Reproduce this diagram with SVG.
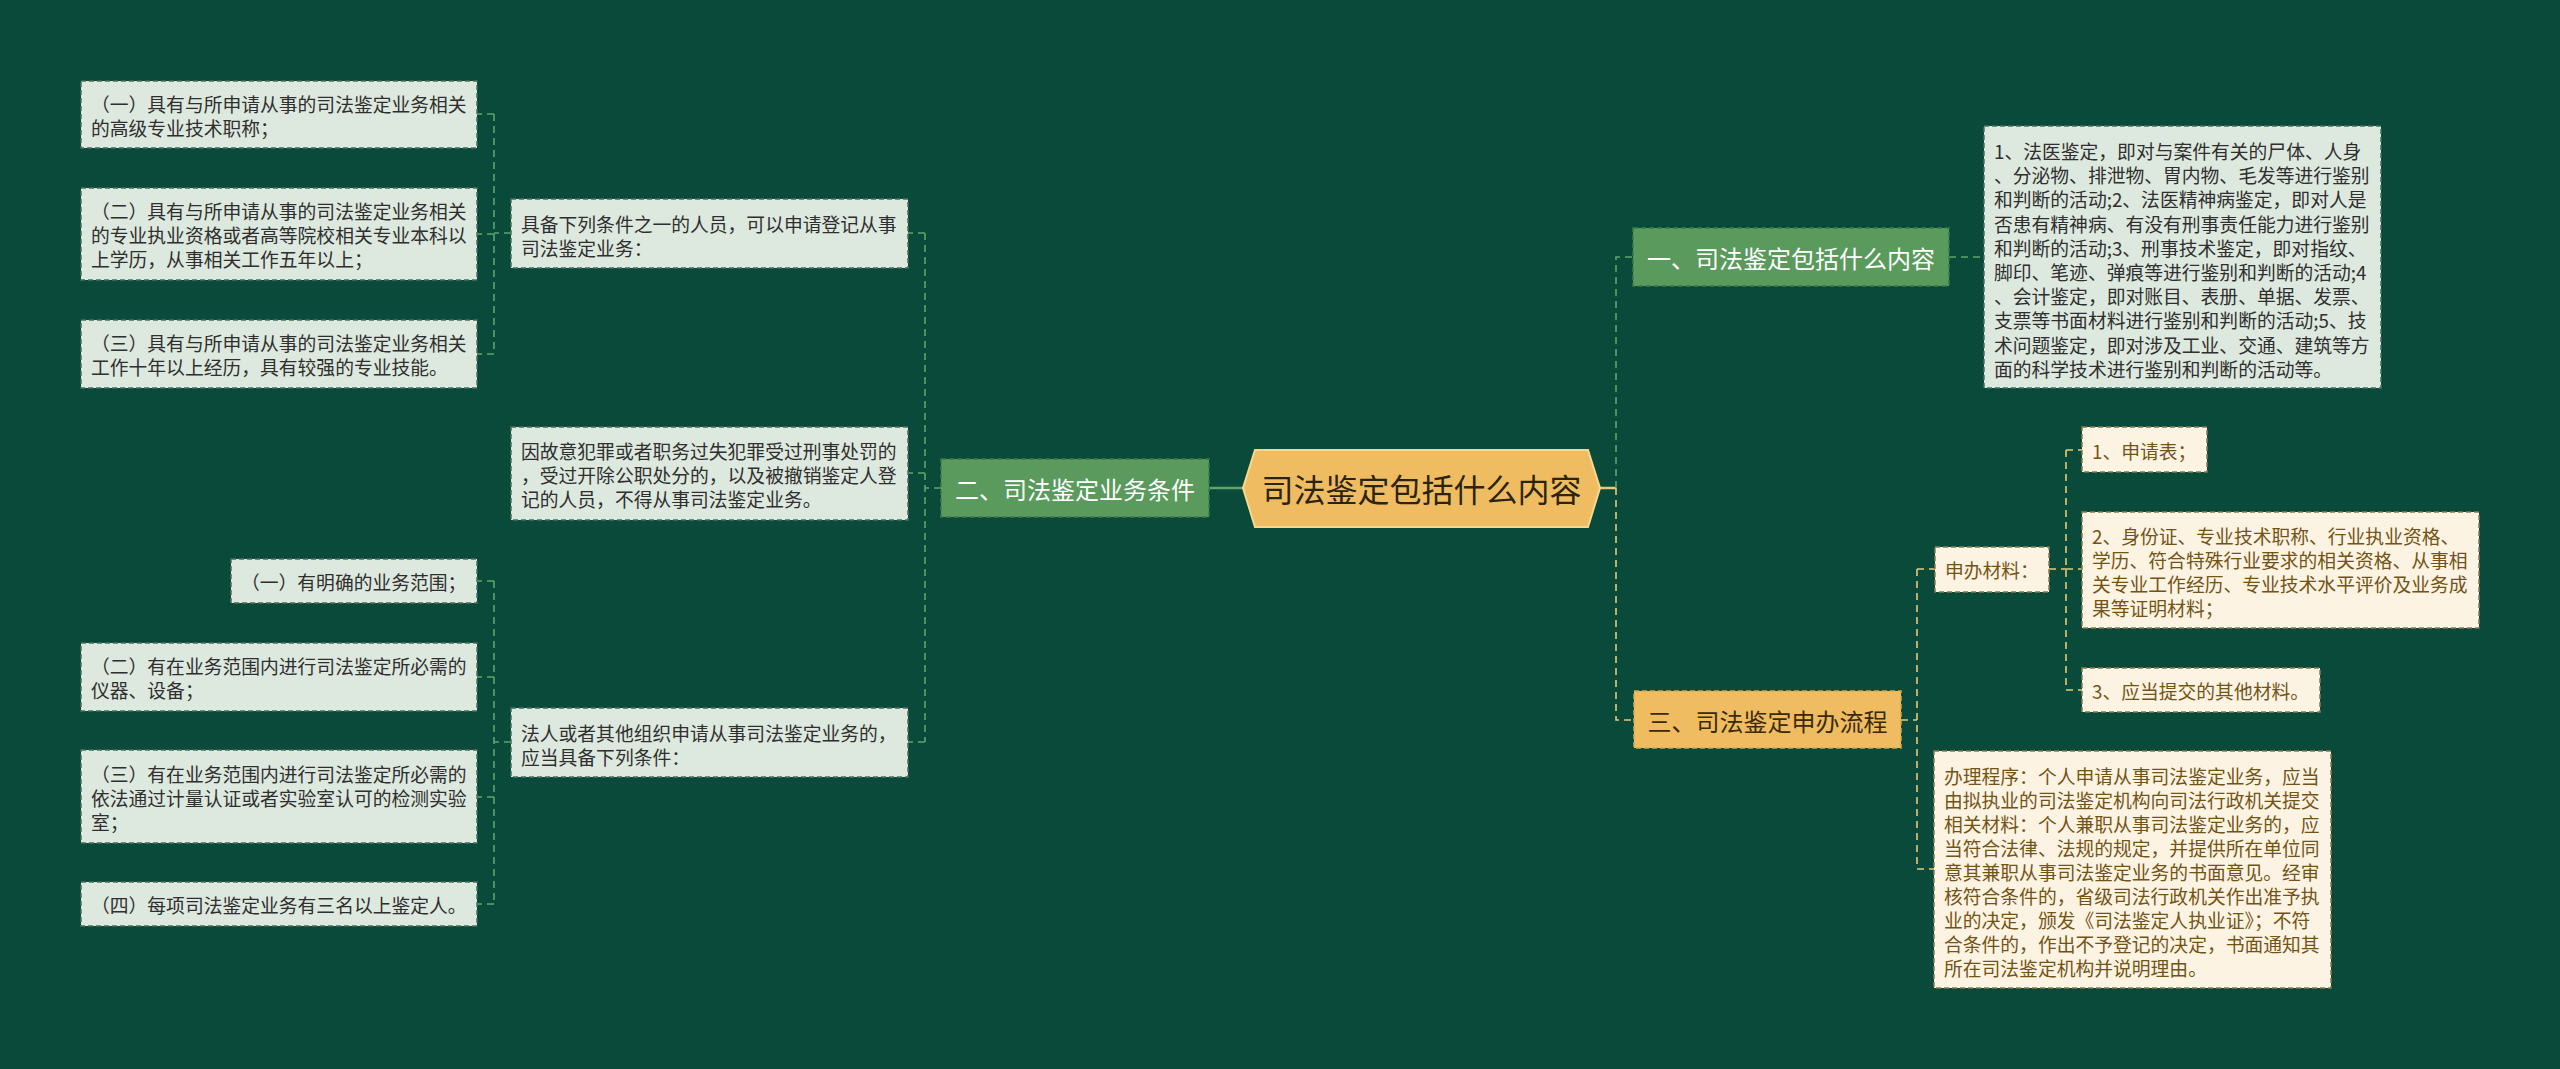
<svg xmlns="http://www.w3.org/2000/svg" width="2560" height="1069" viewBox="0 0 2560 1069">
<style>
text{font-family:"Noto Sans CJK SC","Noto Sans",sans-serif;dominant-baseline:central}
.lg rect{fill:#dde8de;stroke:#4e6e5c;stroke-width:1.5;stroke-dasharray:5 3}
.lg text{font-size:18.8px;fill:#2f2f2f}
.ly rect{fill:#fcf3e3;stroke:#8a7a50;stroke-width:1.5;stroke-dasharray:5 3}
.ly text{font-size:18.8px;fill:#735415}
.gn rect{fill:#5a9a5c;stroke:#3d7a48;stroke-width:1.5;stroke-dasharray:5 3}
.gn text{font-size:24px;fill:#ffffff}
.yn rect{fill:#f0bc62;stroke:#d8a64c;stroke-width:1.5;stroke-dasharray:5 3}
.yn text{font-size:24px;fill:#3a2a0a}
.cg{fill:none;stroke:#5fa46c;stroke-width:1.6;stroke-dasharray:7 5}
.cy{fill:none;stroke:#e9c978;stroke-width:1.6;stroke-dasharray:7 5}
</style>
<rect x="0" y="0" width="2560" height="1069" fill="#0a4a3a"/>
<g id="connectors">
<path class="cg" d="M1243,488 H1209" style="stroke-dasharray:none;stroke-width:2.5"/>
<path class="cg" d="M941,488 H925 M925,233 V742 M925,233 H908 M925,473 H908 M925,742 H908"/>
<path class="cg" d="M511,233 H494 M494,114 V354 M494,114 H477 M494,234 H477 M494,354 H477"/>
<path class="cg" d="M511,742 H494 M494,581 V904 M494,581 H477 M494,677 H477 M494,797 H477 M494,904 H477"/>
<path class="cy" d="M1600,488 H1616" style="stroke-dasharray:none;stroke-width:2.5"/>
<path class="cg" d="M1616,488 V257 H1633"/>
<path class="cg" d="M1949,257 H1984"/>
<path class="cy" d="M1616,488 V720 H1634"/>
<path class="cy" d="M1901,720 H1917 M1917,569 V869 M1917,569 H1935 M1917,869 H1934"/>
<path class="cy" d="M2049,569 H2066 M2066,450 V690 M2066,450 H2082 M2066,569 H2082 M2066,690 H2082"/>
</g>
<g id="root">
<polygon points="1243,488 1255,450 1588,450 1600,488 1588,527 1255,527" fill="#f0bc62" stroke="#f7d98e" stroke-width="2"/>
<text x="1421.5" y="488" text-anchor="middle" font-size="32" fill="#2a2410">司法鉴定包括什么内容</text>
</g>
<g id="n2" class="gn"><rect x="941" y="459" width="268" height="58"/><text x="1075" y="488" text-anchor="middle">二、司法鉴定业务条件</text></g>
<g id="n1" class="gn"><rect x="1633" y="228" width="316" height="58"/><text x="1791" y="257" text-anchor="middle">一、司法鉴定包括什么内容</text></g>
<g id="n3" class="yn"><rect x="1634" y="691" width="267" height="57"/><text x="1767.5" y="720" text-anchor="middle">三、司法鉴定申办流程</text></g>

<g id="p1" class="lg"><rect x="511" y="199" width="397" height="69"/><text x="521"><tspan x="521" y="223">具备下列条件之一的人员，可以申请登记从事</tspan><tspan x="521" y="247">司法鉴定业务：</tspan></text></g>
<g id="p2" class="lg"><rect x="511" y="427" width="397" height="93"/><text x="521"><tspan x="521" y="450">因故意犯罪或者职务过失犯罪受过刑事处罚的</tspan><tspan x="521" y="474">，受过开除公职处分的，以及被撤销鉴定人登</tspan><tspan x="521" y="498">记的人员，不得从事司法鉴定业务。</tspan></text></g>
<g id="p3" class="lg"><rect x="511" y="708" width="397" height="69"/><text x="521"><tspan x="521" y="732">法人或者其他组织申请从事司法鉴定业务的，</tspan><tspan x="521" y="756">应当具备下列条件：</tspan></text></g>

<g id="a1" class="lg"><rect x="81" y="81" width="396" height="67"/><text x="91"><tspan x="91" y="103">（一）具有与所申请从事的司法鉴定业务相关</tspan><tspan x="91" y="127">的高级专业技术职称；</tspan></text></g>
<g id="a2" class="lg"><rect x="81" y="188" width="396" height="92"/><text x="91"><tspan x="91" y="210">（二）具有与所申请从事的司法鉴定业务相关</tspan><tspan x="91" y="234">的专业执业资格或者高等院校相关专业本科以</tspan><tspan x="91" y="258">上学历，从事相关工作五年以上；</tspan></text></g>
<g id="a3" class="lg"><rect x="81" y="320" width="396" height="68"/><text x="91"><tspan x="91" y="342">（三）具有与所申请从事的司法鉴定业务相关</tspan><tspan x="91" y="366">工作十年以上经历，具有较强的专业技能。</tspan></text></g>

<g id="b1" class="lg"><rect x="231" y="559" width="246" height="44"/><text x="241" y="581">（一）有明确的业务范围；</text></g>
<g id="b2" class="lg"><rect x="81" y="643" width="396" height="68"/><text x="91"><tspan x="91" y="665">（二）有在业务范围内进行司法鉴定所必需的</tspan><tspan x="91" y="689">仪器、设备；</tspan></text></g>
<g id="b3" class="lg"><rect x="81" y="750" width="396" height="93"/><text x="91"><tspan x="91" y="773">（三）有在业务范围内进行司法鉴定所必需的</tspan><tspan x="91" y="797">依法通过计量认证或者实验室认可的检测实验</tspan><tspan x="91" y="821">室；</tspan></text></g>
<g id="b4" class="lg"><rect x="81" y="882" width="396" height="44"/><text x="91" y="904">（四）每项司法鉴定业务有三名以上鉴定人。</text></g>

<g id="r1" class="lg"><rect x="1984" y="126" width="397" height="262"/><text x="1994"><tspan x="1994" y="150">1、法医鉴定，即对与案件有关的尸体、人身</tspan><tspan x="1994" y="174.2">、分泌物、排泄物、胃内物、毛发等进行鉴别</tspan><tspan x="1994" y="198.4">和判断的活动;2、法医精神病鉴定，即对人是</tspan><tspan x="1994" y="222.6">否患有精神病、有没有刑事责任能力进行鉴别</tspan><tspan x="1994" y="246.8">和判断的活动;3、刑事技术鉴定，即对指纹、</tspan><tspan x="1994" y="271">脚印、笔迹、弹痕等进行鉴别和判断的活动;4</tspan><tspan x="1994" y="295.2">、会计鉴定，即对账目、表册、单据、发票、</tspan><tspan x="1994" y="319.4">支票等书面材料进行鉴别和判断的活动;5、技</tspan><tspan x="1994" y="343.6">术问题鉴定，即对涉及工业、交通、建筑等方</tspan><tspan x="1994" y="367.8">面的科学技术进行鉴别和判断的活动等。</tspan></text></g>

<g id="m0" class="ly"><rect x="1935" y="547" width="114" height="45"/><text x="1945" y="569">申办材料：</text></g>
<g id="m1" class="ly"><rect x="2082" y="427" width="125" height="45"/><text x="2092" y="450">1、申请表；</text></g>
<g id="m2" class="ly"><rect x="2082" y="512" width="397" height="116"/><text x="2092"><tspan x="2092" y="535">2、身份证、专业技术职称、行业执业资格、</tspan><tspan x="2092" y="559">学历、符合特殊行业要求的相关资格、从事相</tspan><tspan x="2092" y="583">关专业工作经历、专业技术水平评价及业务成</tspan><tspan x="2092" y="607">果等证明材料；</tspan></text></g>
<g id="m3" class="ly"><rect x="2082" y="668" width="238" height="44"/><text x="2092" y="690">3、应当提交的其他材料。</text></g>
<g id="m4" class="ly"><rect x="1934" y="751" width="397" height="237"/><text x="1944"><tspan x="1944" y="775">办理程序：个人申请从事司法鉴定业务，应当</tspan><tspan x="1944" y="799">由拟执业的司法鉴定机构向司法行政机关提交</tspan><tspan x="1944" y="823">相关材料：个人兼职从事司法鉴定业务的，应</tspan><tspan x="1944" y="847">当符合法律、法规的规定，并提供所在单位同</tspan><tspan x="1944" y="871">意其兼职从事司法鉴定业务的书面意见。经审</tspan><tspan x="1944" y="895">核符合条件的，省级司法行政机关作出准予执</tspan><tspan x="1944" y="919">业的决定，颁发《司法鉴定人执业证》；不符</tspan><tspan x="1944" y="943">合条件的，作出不予登记的决定，书面通知其</tspan><tspan x="1944" y="967">所在司法鉴定机构并说明理由。</tspan></text></g>
</svg>
